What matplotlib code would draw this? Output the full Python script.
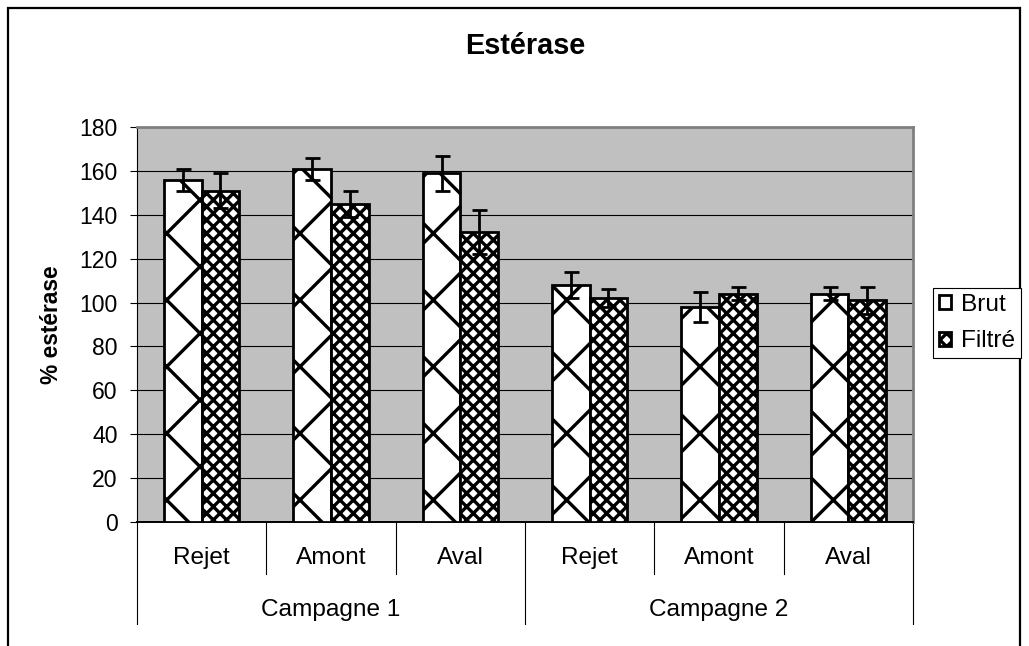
import matplotlib
matplotlib.use("Agg")
import matplotlib.pyplot as plt
from matplotlib.patches import Rectangle

# --- Data ---
categories = ["Rejet", "Amont", "Aval", "Rejet", "Amont", "Aval"]
campagnes = ["Campagne 1", "Campagne 2"]
brut = [156, 161, 159, 108, 98, 104]
brut_err = [5, 5, 8, 6, 7, 3]
filtre = [151, 145, 132, 102, 104, 101]
filtre_err = [8, 6, 10, 4, 3, 6]
series_names = ["Brut", "Filtré"]
y_ticks = [0, 20, 40, 60, 80, 100, 120, 140, 160, 180]

plt.rcParams['font.family'] = ['Liberation Sans', 'DejaVu Sans']
plt.rcParams['hatch.linewidth'] = 1.2
plt.rcParams['hatch.color'] = 'black'

W, H = 1029, 646
DPI = 200
fig = plt.figure(figsize=(W / DPI, H / DPI), dpi=DPI, facecolor='white')
ax = fig.add_axes([137 / W, 1 - 522 / H, 776 / W, 395 / H])
ax.set_facecolor('#c0c0c0')

x = list(range(len(categories)))
w = 0.29
xb = [i - w / 2 for i in x]
xf = [i + w / 2 for i in x]

b1 = ax.bar(xb, brut, w, color='white', edgecolor='black', hatch='x',
            linewidth=1.0, zorder=3, label=series_names[0])
b2 = ax.bar(xf, filtre, w, color='white', edgecolor='black', hatch='xxxxx',
            linewidth=1.0, zorder=3, label=series_names[1])
ax.errorbar(xb, brut, yerr=brut_err, fmt='none', ecolor='black',
            elinewidth=1.0, capsize=2.7, capthick=1.0, zorder=4)
ax.errorbar(xf, filtre, yerr=filtre_err, fmt='none', ecolor='black',
            elinewidth=1.0, capsize=2.7, capthick=1.0, zorder=4)

# --- Axes styling ---
ax.set_xlim(-0.5, len(categories) - 0.5)
ax.set_ylim(0, 180)
ax.set_yticks(y_ticks)
ax.tick_params(axis='y', direction='out', length=2.5, width=0.4,
               labelsize=8.3, pad=4.5)
ax.set_xticks([])
ax.yaxis.grid(True, color='black', linewidth=0.4)
ax.set_axisbelow(True)
ax.spines['left'].set_color('black')
ax.spines['left'].set_linewidth(0.4)
ax.spines['bottom'].set_color('black')
ax.spines['bottom'].set_linewidth(0.7)
for s in ('top', 'right'):
    ax.spines[s].set_color('#808080')
    ax.spines[s].set_linewidth(1.0)

# --- Two-level category axis ---
tr = ax.get_xaxis_transform()
for i, cat in enumerate(categories):
    ax.text(i, -0.091, cat, transform=tr, ha='center', va='center', fontsize=8.8)
for k in range(len(categories) + 1):
    xs = k - 0.5
    y_end = -0.258 if k % 3 == 0 else -0.1316
    ax.plot([xs, xs], [0, y_end], transform=tr, color='black', lw=0.4,
            clip_on=False)
for j, camp in enumerate(campagnes):
    ax.text(3 * j + 1, -0.223, camp, transform=tr, ha='center', va='center',
            fontsize=8.8)

# --- Titles ---
fig.text((137 + 913) / 2 / W, 1 - 46 / H, "Estérase", ha='center', va='center',
         fontsize=10.4, fontweight='bold')
fig.text(52 / W, 1 - 324.5 / H, "% estérase", ha='center', va='center',
         rotation=90, fontsize=8.2, fontweight='bold')

# --- Legend ---
leg = fig.legend(handles=[b1, b2], loc='center left',
                 bbox_to_anchor=(933 / W, 1 - 323 / H), fontsize=8.8,
                 handlelength=0.5, handleheight=0.5, handletextpad=0.4,
                 labelspacing=0.6, borderpad=0.25, borderaxespad=0,
                 fancybox=False, framealpha=1)
leg.get_frame().set_edgecolor('black')
leg.get_frame().set_linewidth(0.4)

# --- Outer chart border (bottom edge is cut off) ---
fig.add_artist(Rectangle((8 / W, -0.5), (1020 - 8) / W, 0.5 + 1 - 8 / H,
                         transform=fig.transFigure, fill=False,
                         edgecolor='black', linewidth=0.8))

fig.savefig("out.png", dpi=DPI)
